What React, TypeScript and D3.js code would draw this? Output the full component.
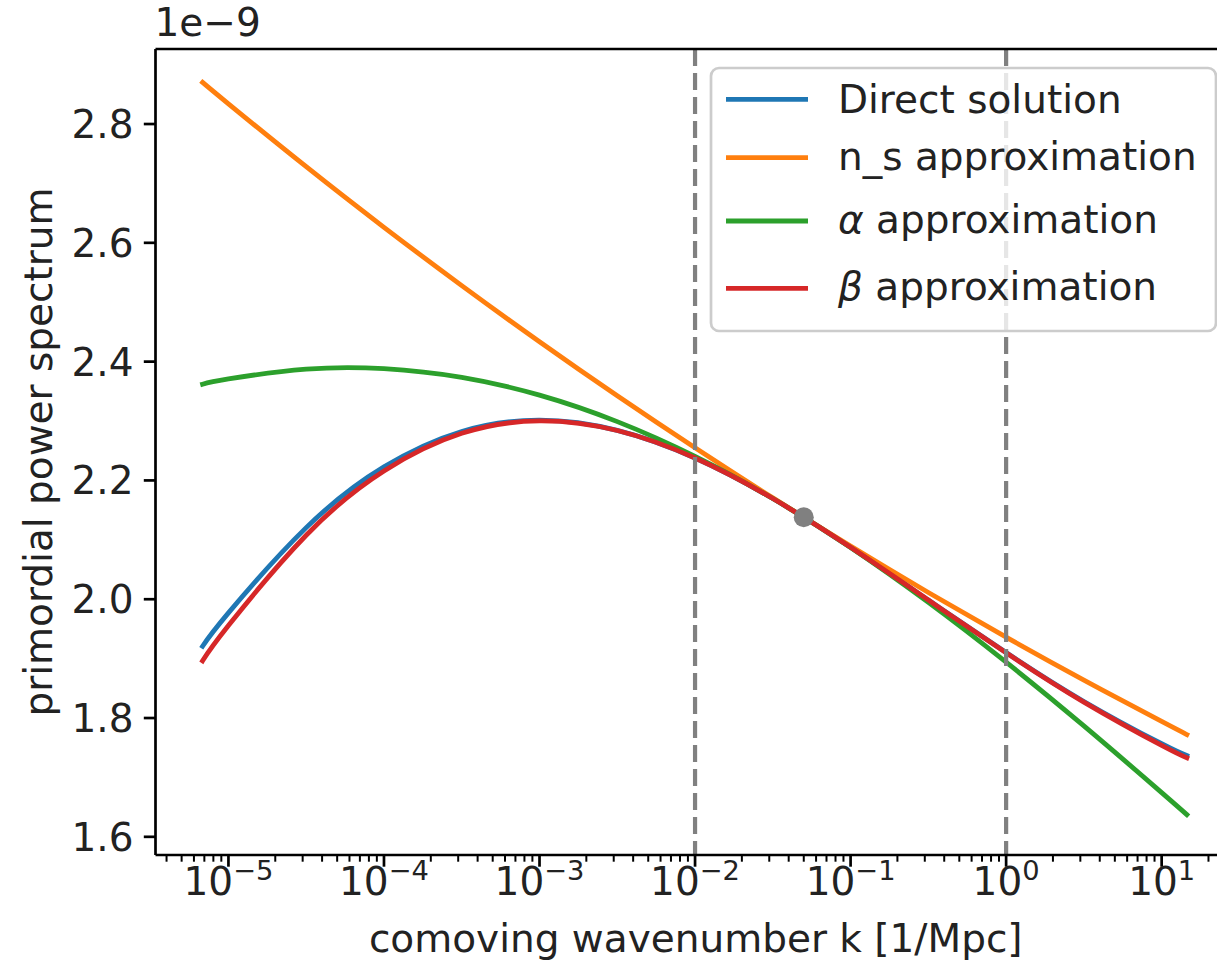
import React from "react";
import * as d3 from "d3";

// Comoving wavenumber samples k [1/Mpc]
const kValues = [6.82e-6, 1e-5, 3.162e-5, 1e-4, 3.162e-4, 1e-3, 3.162e-3, 1e-2, 3.162e-2, 0.1, 0.3162, 1, 3.162, 10, 14.52];

// Primordial power spectrum, in units of 1e-9
const directSolution = [1.9209, 1.977, 2.1205, 2.2228, 2.2824, 2.3014, 2.2842, 2.2377, 2.1695, 2.0873, 1.9986, 1.9102, 1.8279, 1.7567, 1.7368];
const nsApprox = [2.8701, 2.834, 2.7281, 2.6261, 2.528, 2.4335, 2.3425, 2.255, 2.1707, 2.0895, 2.0114, 1.9362, 1.8639, 1.7942, 1.7722];
const alphaApprox = [2.362, 2.3708, 2.3873, 2.3881, 2.3734, 2.3436, 2.299, 2.2406, 2.1695, 2.0871, 1.9946, 1.894, 1.7867, 1.6745, 1.6374];
const betaApprox = [1.8963, 1.9556, 2.1077, 2.216, 2.2793, 2.3003, 2.284, 2.2377, 2.1695, 2.0873, 1.9986, 1.9099, 1.8268, 1.7539, 1.7331];

// Pivot scale and amplitude there
const pivotK = 0.05;
const pivotP = 2.138;

// Vertical reference lines
const markerKs = [0.01, 1];

const yTicks = [1.6, 1.8, 2.0, 2.2, 2.4, 2.6, 2.8];
const xMajorExps = [-5, -4, -3, -2, -1, 0, 1];
const offsetLabel = "1e\u22129";

const seriesNames = ["Direct solution", "n_s approximation", "\u03b1 approximation", "\u03b2 approximation"];
const seriesColors = ["#1f77b4", "#ff7f0e", "#2ca02c", "#d62728"];
const seriesData = [directSolution, nsApprox, alphaApprox, betaApprox];

const W = 1217;
const H = 968;
const FONT = "DejaVu Sans, sans-serif";
const FS = 39;

export default function App() {
  const left = 155.5, right = 1236, top = 49, bottom = 855;
  const x = d3.scaleLog().domain([Math.pow(10, -5.469), Math.pow(10, 1.478)]).range([left, right]);
  const y = d3.scaleLinear().domain([1.5694, 2.9263]).range([bottom, top]);

  const line = d3
    .line<[number, number]>()
    .x((d) => x(d[0]))
    .y((d) => y(d[1]))
    .curve(d3.curveNatural);

  const [lo, hi] = x.domain();
  const minorTicks: number[] = [];
  for (let e = -6; e <= 1; e++) {
    for (let m = 2; m <= 9; m++) {
      const v = m * Math.pow(10, e);
      if (v >= lo && v <= hi) minorTicks.push(v);
    }
  }

  const legendRows = [
    { ly: 99.3, ty: 112.7 },
    { ly: 157.7, ty: 170 },
    { ly: 221, ty: 233 },
    { ly: 288.3, ty: 300 },
  ];

  const renderLegendLabel = (name: string) => {
    const greek = name[0] === "\u03b1" || name[0] === "\u03b2";
    if (greek) {
      return (
        <>
          <tspan fontStyle="italic">{name[0]}</tspan>
          <tspan>{name.slice(1)}</tspan>
        </>
      );
    }
    return name;
  };

  return (
    <svg
      width={W}
      height={H}
      style={{ position: "absolute", left: 0, top: 0, display: "block", background: "#fff" }}
      fontFamily={FONT}
    >
      <defs>
        <clipPath id="plot-area">
          <rect x={left} y={top} width={right - left} height={bottom - top} />
        </clipPath>
      </defs>
      <rect x={0} y={0} width={W} height={H} fill="#fff" />

      <g clipPath="url(#plot-area)">
        {seriesData.map((vals, i) => (
          <path
            key={seriesNames[i]}
            d={line(kValues.map((k, j) => [k, vals[j]] as [number, number])) || ""}
            fill="none"
            stroke={seriesColors[i]}
            strokeWidth={4.8}
            strokeLinecap="square"
          />
        ))}
        {markerKs.map((k) => (
          <line
            key={k}
            x1={x(k)}
            x2={x(k)}
            y1={top}
            y2={bottom}
            stroke="#808080"
            strokeWidth={4.2}
            strokeDasharray="17,7"
          />
        ))}
        <circle cx={x(pivotK)} cy={y(pivotP)} r={10} fill="#808080" />
      </g>

      {/* axes frame */}
      <g stroke="#000" strokeWidth={2.7} fill="none">
        <line x1={left} x2={left} y1={top} y2={bottom} />
        <line x1={left} x2={right} y1={bottom} y2={bottom} />
        <line x1={left} x2={right} y1={top} y2={top} />
        <line x1={right} x2={right} y1={top} y2={bottom} />
      </g>

      {/* y ticks */}
      {yTicks.map((t) => (
        <g key={t}>
          <line x1={left - 11.7} x2={left} y1={y(t)} y2={y(t)} stroke="#000" strokeWidth={2.7} />
          <text x={left - 22} y={y(t)} dy="0.36em" textAnchor="end" fontSize={FS} fill="#222">
            {t.toFixed(1)}
          </text>
        </g>
      ))}
      <text x={left - 1} y={36} fontSize={FS} fill="#222">
        {offsetLabel}
      </text>

      {/* x ticks */}
      {minorTicks.map((t) => (
        <line key={"m" + t} x1={x(t)} x2={x(t)} y1={bottom} y2={bottom + 6.7} stroke="#000" strokeWidth={2} />
      ))}
      {xMajorExps.map((e) => {
        const t = Math.pow(10, e);
        const sup = e < 0 ? "\u2212" + Math.abs(e) : String(e);
        return (
          <g key={e}>
            <line x1={x(t)} x2={x(t)} y1={bottom} y2={bottom + 11.7} stroke="#000" strokeWidth={2.7} />
            <text x={x(t)} y={bottom + 40} textAnchor="middle" fontSize={FS} fill="#222">
              10
              <tspan fontSize={FS * 0.7} dy={-15}>
                {sup}
              </tspan>
            </text>
          </g>
        );
      })}

      {/* axis labels */}
      <text x={(left + right) / 2} y={952} textAnchor="middle" fontSize={FS} fill="#222">
        comoving wavenumber k [1/Mpc]
      </text>
      <text
        transform={`translate(52,${(top + bottom) / 2}) rotate(-90)`}
        textAnchor="middle"
        fontSize={FS}
        fill="#222"
      >
        primordial power spectrum
      </text>

      {/* legend */}
      <rect x={711} y={68} width={505} height={263} rx={8} fill="#fff" fillOpacity={0.8} stroke="#cccccc" strokeWidth={2.7} />
      {seriesNames.map((name, i) => (
        <g key={"lg" + name}>
          <line x1={726} x2={808} y1={legendRows[i].ly} y2={legendRows[i].ly} stroke={seriesColors[i]} strokeWidth={4.8} />
          <text x={838} y={legendRows[i].ty} fontSize={FS} fill="#222">
            {renderLegendLabel(name)}
          </text>
        </g>
      ))}
    </svg>
  );
}
